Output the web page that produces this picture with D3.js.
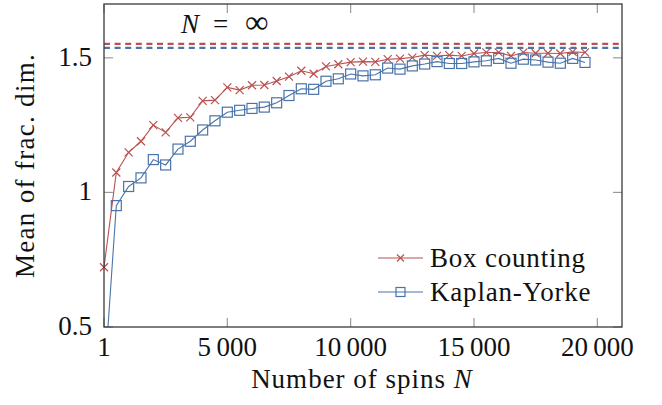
<!DOCTYPE html>
<html>
<head>
<meta charset="utf-8">
<script src="https://cdn.jsdelivr.net/npm/d3@7"></script>
<style>
  body { margin: 0; background: #fff; }
  svg { display: block; }
</style>
</head>
<body>
<div id="chart"></div>
<script>
  // number of spins N (x positions of the samples)
  var spins = [1, 500, 1000, 1500, 2000, 2500, 3000, 3500, 4000, 4500,
    5000, 5500, 6000, 6500, 7000, 7500, 8000, 8500, 9000, 9500,
    10000, 10500, 11000, 11500, 12000, 12500, 13000, 13500, 14000, 14500,
    15000, 15500, 16000, 16500, 17000, 17500, 18000, 18500, 19000, 19500];

  var boxCounting = [0.722, 1.074, 1.149, 1.190, 1.250, 1.223, 1.277, 1.279, 1.340, 1.343,
    1.390, 1.380, 1.398, 1.399, 1.414, 1.430, 1.452, 1.441, 1.468, 1.476,
    1.484, 1.486, 1.485, 1.495, 1.497, 1.501, 1.510, 1.507, 1.510, 1.507,
    1.516, 1.520, 1.520, 1.507, 1.520, 1.517, 1.517, 1.516, 1.522, 1.520];

  var kaplanYorke = [0.285, 0.951, 1.022, 1.054, 1.122, 1.102, 1.161, 1.190, 1.232, 1.266,
    1.298, 1.305, 1.312, 1.317, 1.333, 1.360, 1.385, 1.383, 1.413, 1.422,
    1.440, 1.433, 1.437, 1.462, 1.458, 1.470, 1.477, 1.486, 1.479, 1.479,
    1.485, 1.489, 1.498, 1.480, 1.495, 1.492, 1.484, 1.480, 1.498, 1.483];

  // N = infinity reference levels
  var limitBox = 1.552;
  var limitKY = 1.537;

  var xTicks = [1, 5000, 10000, 15000, 20000];
  var xTickLabels = ['1', '5\u2009000', '10\u2009000', '15\u2009000', '20\u2009000'];
  var yTicks = [0.5, 1, 1.5];
  var yTickLabels = ['0.5', '1', '1.5'];

  var seriesNames = ['Box counting', 'Kaplan-Yorke'];

  var red = '#b85150';
  var blue = '#4a73aa';
  var serif = "'Liberation Serif', 'Times New Roman', Times, 'DejaVu Serif', serif";

  var W = 662, H = 405;
  var margin = { top: 4, right: 40, bottom: 78, left: 104 };
  var width = W - margin.left - margin.right;
  var height = H - margin.top - margin.bottom;

  var x = d3.scaleLinear().domain([1, 21000]).range([0, width]);
  var y = d3.scaleLinear().domain([0.5, 1.7]).range([height, 0]);

  var svg = d3.select('#chart').append('svg')
      .attr('width', W)
      .attr('height', H)
      .attr('font-family', serif)
      .attr('fill', '#111');

  svg.append('defs').append('clipPath')
      .attr('id', 'clip')
    .append('rect')
      .attr('width', width)
      .attr('height', height);

  svg.append('defs').append('clipPath')
      .attr('id', 'clipMarks')
    .append('rect')
      .attr('x', -7)
      .attr('y', -7)
      .attr('width', width + 14)
      .attr('height', height + 14);

  var g = svg.append('g')
      .attr('transform', 'translate(' + margin.left + ',' + margin.top + ')');

  // ticks, mirrored on all four sides, pointing inwards
  var tickLen = 9;
  var ticks = g.append('g')
      .style('stroke', '#9a9a9a')
      .style('stroke-width', 1.2);

  ticks.selectAll('.xb').data(xTicks).enter().append('line')
      .attr('x1', function (d) { return x(d); })
      .attr('x2', function (d) { return x(d); })
      .attr('y1', height)
      .attr('y2', height - tickLen);
  ticks.selectAll('.xt').data(xTicks).enter().append('line')
      .attr('x1', function (d) { return x(d); })
      .attr('x2', function (d) { return x(d); })
      .attr('y1', 0)
      .attr('y2', tickLen);
  ticks.selectAll('.yl').data(yTicks).enter().append('line')
      .attr('y1', function (d) { return y(d); })
      .attr('y2', function (d) { return y(d); })
      .attr('x1', 0)
      .attr('x2', tickLen);
  ticks.selectAll('.yr').data(yTicks).enter().append('line')
      .attr('y1', function (d) { return y(d); })
      .attr('y2', function (d) { return y(d); })
      .attr('x1', width)
      .attr('x2', width - tickLen);

  // dashed limit lines
  [[limitBox, red], [limitKY, blue]].forEach(function (l) {
    g.append('line')
        .attr('x1', 0)
        .attr('x2', width)
        .attr('y1', y(l[0]))
        .attr('y2', y(l[0]))
        .style('stroke', l[1])
        .style('stroke-width', 2.2)
        .style('stroke-dasharray', '6,4.6');
  });

  var line = d3.line()
      .x(function (d) { return x(d[0]); })
      .y(function (d) { return y(d[1]); });

  var boxData = spins.map(function (s, i) { return [s, boxCounting[i]]; });
  var kyData = spins.map(function (s, i) { return [s, kaplanYorke[i]]; });

  var plot = g.append('g');

  plot.append('path')
      .datum(boxData)
      .attr('clip-path', 'url(#clip)')
      .attr('d', line)
      .style('fill', 'none')
      .style('stroke', red)
      .style('stroke-width', 1.1);

  plot.append('path')
      .datum(kyData)
      .attr('clip-path', 'url(#clip)')
      .attr('d', line)
      .style('fill', 'none')
      .style('stroke', blue)
      .style('stroke-width', 1.1);

  var crossPath = function (cx, cy, r) {
    return 'M' + (cx - r) + ',' + (cy - r) + 'L' + (cx + r) + ',' + (cy + r) +
      'M' + (cx - r) + ',' + (cy + r) + 'L' + (cx + r) + ',' + (cy - r);
  };

  plot.append('g')
      .attr('clip-path', 'url(#clipMarks)')
    .selectAll('path')
      .data(boxData)
    .enter().append('path')
      .attr('d', function (d) { return crossPath(x(d[0]), y(d[1]), 4); })
      .style('stroke', red)
      .style('stroke-width', 1.2);

  plot.append('g')
      .attr('clip-path', 'url(#clipMarks)')
    .selectAll('rect')
      .data(kyData)
    .enter().append('rect')
      .attr('x', function (d) { return x(d[0]) - 5; })
      .attr('y', function (d) { return y(d[1]) - 5; })
      .attr('width', 10)
      .attr('height', 10)
      .style('fill', 'none')
      .style('stroke', blue)
      .style('stroke-width', 1.2);

  // frame
  g.append('rect')
      .attr('width', width)
      .attr('height', height)
      .style('fill', 'none')
      .style('stroke', '#3a3a3a')
      .style('stroke-width', 1.3);

  // tick labels
  g.selectAll('.xlab').data(xTicks).enter().append('text')
      .attr('x', function (d) { return x(d); })
      .attr('y', height + 29)
      .attr('text-anchor', 'middle')
      .attr('font-size', 27)
      .text(function (d, i) { return xTickLabels[i]; });

  g.selectAll('.ylab').data(yTicks).enter().append('text')
      .attr('x', -12)
      .attr('y', function (d) { return y(d) + 8; })
      .attr('text-anchor', 'end')
      .attr('font-size', 27)
      .text(function (d, i) { return yTickLabels[i]; });

  // axis titles (a little letter spacing to get closer to Computer Modern widths)
  var xTitle = svg.append('text')
      .attr('x', margin.left + width / 2 - 1)
      .attr('y', 388)
      .attr('text-anchor', 'middle')
      .attr('font-size', 27)
      .attr('letter-spacing', 1);
  xTitle.append('tspan').text('Number of spins ');
  xTitle.append('tspan').attr('font-style', 'italic').text('N');

  svg.append('text')
      .attr('transform', 'translate(34,' + (margin.top + height / 2) + ') rotate(-90)')
      .attr('text-anchor', 'middle')
      .attr('font-size', 27)
      .attr('letter-spacing', 1.3)
      .text('Mean of frac. dim.');

  // N = infinity label
  var inf = svg.append('g').attr('font-size', 27);
  inf.append('text')
      .attr('x', 181)
      .attr('y', 33)
      .attr('font-style', 'italic')
      .text('N');
  inf.append('text')
      .attr('x', 213)
      .attr('y', 33)
      .text('=');
  inf.append('text')
      .attr('x', 245)
      .attr('y', 33)
      .attr('font-size', 33)
      .text('\u221e');

  // legend
  var legend = svg.append('g');
  var legendRows = [
    { name: seriesNames[0], color: red, y: 258, mark: 'cross' },
    { name: seriesNames[1], color: blue, y: 292, mark: 'square' }
  ];
  legendRows.forEach(function (r) {
    legend.append('line')
        .attr('x1', 378)
        .attr('x2', 423)
        .attr('y1', r.y)
        .attr('y2', r.y)
        .style('stroke', r.color)
        .style('stroke-width', 1.1);
    if (r.mark === 'cross') {
      legend.append('path')
          .attr('d', crossPath(400.5, r.y, 3.5))
          .style('stroke', r.color)
          .style('stroke-width', 1.2);
    } else {
      legend.append('rect')
          .attr('x', 396)
          .attr('y', r.y - 4.5)
          .attr('width', 9)
          .attr('height', 9)
          .style('fill', 'none')
          .style('stroke', r.color)
          .style('stroke-width', 1.2);
    }
    legend.append('text')
        .attr('x', 430)
        .attr('y', r.y + 9)
        .attr('font-size', 27)
        .attr('letter-spacing', 0.8)
        .text(r.name);
  });
</script>
</body>
</html>
